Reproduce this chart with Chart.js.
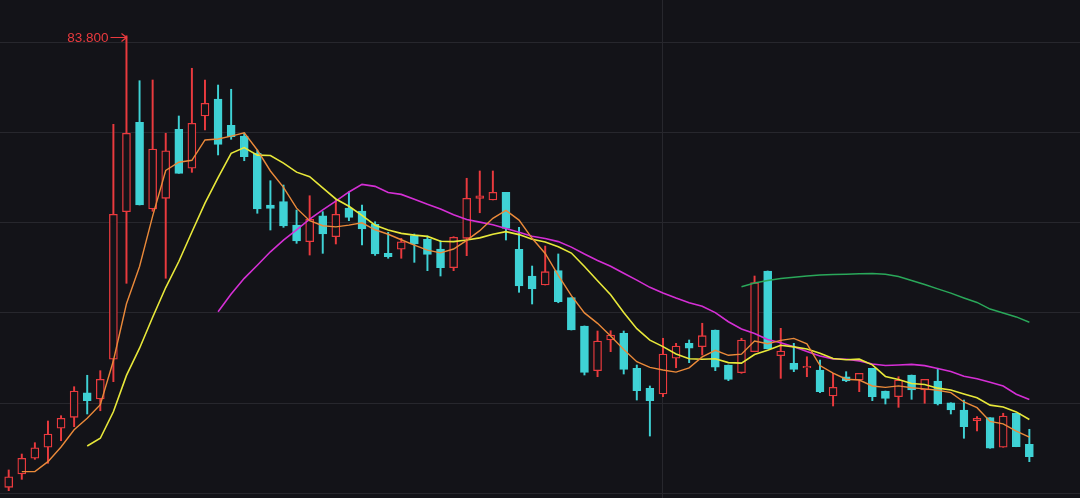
<!DOCTYPE html>
<html>
<head>
<meta charset="utf-8">
<script src="https://cdn.jsdelivr.net/npm/chart.js@4.4.1/dist/chart.umd.min.js"></script>
<style>
  html, body { margin: 0; padding: 0; background: #131318; overflow: hidden; }
  #wrap { position: relative; width: 1080px; height: 498px; }
</style>
</head>
<body>
<div id="wrap"><canvas id="c"></canvas></div>
<script>
// ---- data (price units) ----
const days = Array.from({ length: 79 }, (_, i) => i);

const open = [33.63,35.11,36.86,38.08,40.19,41.41,44.14,43.44,47.86,64.26,
  74.19,64.56,65.74,73.41,69.08,74.89,76.78,73.86,72.67,70.74,
  65.00,65.37,62.78,60.92,63.81,61.48,64.67,64.33,62.86,59.63,
  60.08,61.59,61.19,60.11,58.03,61.30,65.74,65.56,66.41,60.08,
  57.11,56.11,57.70,54.70,51.56,46.59,50.00,50.74,46.86,44.63,
  44.00,47.97,49.63,49.26,51.11,47.22,46.37,48.70,57.67,48.26,
  47.41,46.92,46.67,43.78,45.92,45.56,46.86,44.33,43.70,46.11,
  44.44,45.44,43.03,42.22,41.03,41.37,38.08,41.86,38.41];

const high = [35.56,37.33,38.59,41.00,41.59,44.81,46.08,46.59,73.97,83.80,
  78.81,78.89,72.97,74.89,80.19,78.89,78.33,77.86,73.00,71.11,
  67.70,67.22,64.44,66.03,64.26,65.56,66.48,65.00,63.14,61.97,
  61.30,61.78,61.56,61.03,61.48,67.97,68.78,68.78,66.41,62.52,
  58.22,60.44,59.56,54.70,51.56,51.00,51.03,51.00,47.22,44.89,
  50.19,49.63,50.00,51.86,51.11,47.22,50.19,57.11,57.67,51.30,
  49.63,48.14,47.78,46.30,46.48,46.30,46.86,44.33,45.92,46.11,
  45.63,46.86,43.03,43.33,41.48,41.37,41.86,41.86,40.08];

const low = [33.26,34.52,36.74,36.30,38.81,40.37,41.78,42.14,45.37,56.30,
  65.00,64.30,56.86,68.52,68.63,73.33,70.56,72.30,69.92,64.08,
  62.22,62.52,60.74,59.44,59.63,60.67,63.26,60.56,59.40,59.08,
  59.08,58.63,57.70,57.11,57.70,59.37,64.14,65.56,61.11,55.30,
  54.00,56.11,54.14,51.11,46.11,45.92,48.70,46.22,43.33,39.33,
  43.70,46.92,47.48,48.33,46.59,45.48,46.30,48.70,49.00,45.74,
  46.48,45.92,44.14,42.67,45.37,44.26,43.26,42.89,42.52,43.41,
  42.97,42.78,41.78,39.08,39.89,37.97,38.08,38.14,36.48];

const close = [34.81,36.86,38.03,39.56,41.30,44.33,43.26,45.63,63.97,72.97,
  65.00,71.22,71.03,68.52,74.08,76.30,71.74,72.59,70.37,64.56,
  64.63,62.67,61.00,63.41,61.78,63.97,63.63,62.33,59.56,59.26,
  60.92,60.67,59.52,58.03,61.41,65.74,66.03,66.41,62.41,56.00,
  55.67,57.59,54.26,51.11,46.41,49.89,50.56,46.74,44.37,43.26,
  48.44,49.33,49.08,50.48,46.97,45.63,50.00,56.37,49.00,48.78,
  46.74,47.03,44.26,44.74,45.44,46.30,43.70,43.52,45.56,44.44,
  45.63,42.89,42.22,40.37,41.30,37.97,41.56,38.14,37.03];

// moving averages, each with the first day it appears
const ma5Start = 1;
const ma5 = [35.37,35.37,36.48,38.11,40.02,41.30,42.82,47.70,54.03,58.17,
  63.76,68.84,69.75,69.97,72.23,72.33,72.65,73.02,71.11,68.78,
  66.96,64.65,63.25,62.70,62.57,62.76,63.02,62.25,61.75,61.14,
  60.55,59.99,59.68,60.11,61.07,62.15,63.52,64.40,63.32,61.30,
  59.62,57.19,54.93,53.01,51.85,50.45,48.94,47.59,46.96,46.67,
  46.43,46.90,48.12,48.86,48.30,48.43,49.89,49.59,49.96,50.18,
  49.58,47.16,46.31,45.64,45.55,44.89,44.74,44.90,44.70,44.57,
  44.41,44.15,43.11,42.48,40.95,40.68,39.87,39.20];

const ma10Start = 6;
const ma10 = [38.22,39.08,42.03,46.07,49.09,52.53,55.83,58.72,62.00,65.20,
  68.05,70.74,71.38,70.54,70.50,69.65,68.65,68.14,66.91,65.67,
  64.86,63.84,62.75,62.22,61.85,61.65,61.51,60.97,60.93,61.11,
  61.35,61.76,62.04,61.71,61.19,60.88,60.36,59.66,58.16,56.58,
  55.03,53.06,51.26,49.99,49.26,48.44,47.92,47.86,47.91,47.49,
  47.43,48.39,48.86,49.41,49.24,49.01,48.53,47.95,47.80,47.87,
  47.24,45.95,45.61,45.17,45.06,44.65,44.44,44.01,43.59,42.76,
  42.55,42.01,41.16];

const ma20Start = 16;
const ma20 = [53.14,55.11,56.85,58.31,59.80,61.09,62.24,63.43,64.45,65.44,
  66.45,67.29,67.07,66.38,66.18,65.65,65.08,64.55,63.92,63.39,
  63.10,62.80,62.40,61.97,61.52,61.27,60.93,60.32,59.55,58.84,
  58.19,57.41,56.65,55.85,55.23,54.66,54.14,53.76,53.04,52.03,
  51.23,50.73,50.06,49.70,49.25,48.72,48.22,47.90,47.86,47.68,
  47.33,47.17,47.23,47.29,47.15,46.83,46.49,45.98,45.70,45.31,
  44.89,43.98,43.38];

const ma60Start = 56;
const ma60 = [55.92,56.33,56.61,56.83,56.98,57.11,57.22,57.27,57.30,57.36,
  57.39,57.31,57.06,56.61,56.17,55.68,55.20,54.67,54.17,53.44,
  53.00,52.56,51.97];

const gridLevels = [33, 43, 53, 63, 73, 83];
const gridDay = 50;

// ---- style ----
const BG = '#131318';
const GRID = '#27272d';
const RED = '#ea3a3e';
const CYAN = '#3fd2d5';

const isUp = i => close[i] >= open[i];
const series = (start, arr) => arr.map((v, k) => ({ x: start + k, y: v }));

const peakLabel = {
  id: 'peakLabel',
  afterDatasetsDraw(chart) {
    const { ctx, scales: { x, y } } = chart;
    const top = Math.max(...high);
    const i = high.indexOf(top);
    const px = Math.round(x.getPixelForValue(i)) + 0.5;
    const py = Math.round(y.getPixelForValue(top)) + 1.5;
    ctx.save();
    ctx.strokeStyle = RED;
    ctx.fillStyle = RED;
    ctx.lineWidth = 1.2;
    ctx.beginPath();
    ctx.moveTo(px - 16, py); ctx.lineTo(px, py);
    ctx.moveTo(px - 5, py - 4); ctx.lineTo(px, py); ctx.lineTo(px - 5, py + 4);
    ctx.stroke();
    ctx.font = '13.5px "Liberation Sans", Arial, sans-serif';
    ctx.textAlign = 'right';
    ctx.textBaseline = 'middle';
    ctx.fillText(top.toFixed(3), px - 18, py + 0.5);
    ctx.restore();
  }
};

new Chart(document.getElementById('c'), {
  type: 'bar',
  data: {
    datasets: [
      {
        type: 'line', label: 'MA5', order: 0,
        data: series(ma5Start, ma5),
        borderColor: '#eb8a3a', borderWidth: 1.4, pointRadius: 0, tension: 0, fill: false
      },
      {
        type: 'line', label: 'MA10', order: 0,
        data: series(ma10Start, ma10),
        borderColor: '#e8e83a', borderWidth: 1.6, pointRadius: 0, tension: 0, fill: false
      },
      {
        type: 'line', label: 'MA20', order: 0,
        data: series(ma20Start, ma20),
        borderColor: '#d52fd5', borderWidth: 1.6, pointRadius: 0, tension: 0, fill: false
      },
      {
        type: 'line', label: 'MA60', order: 0,
        data: series(ma60Start, ma60),
        borderColor: '#2aa85a', borderWidth: 1.4, pointRadius: 0, tension: 0, fill: false
      },
      {
        label: 'body', order: 2,
        data: days.map(i => ({ x: i, y: [open[i], close[i]] })),
        backgroundColor: c => isUp(c.dataIndex) ? BG : CYAN,
        borderColor: c => isUp(c.dataIndex) ? RED : CYAN,
        borderWidth: 1.3,
        borderSkipped: false,
        barThickness: 8,
        minBarLength: 1.3,
        grouped: false
      },
      {
        label: 'wick', order: 3,
        data: days.map(i => ({ x: i, y: [low[i], high[i]] })),
        backgroundColor: c => isUp(c.dataIndex) ? RED : CYAN,
        borderWidth: 0,
        barThickness: 1.3,
        grouped: false
      }
    ]
  },
  options: {
    responsive: true,
    maintainAspectRatio: false,
    animation: false,
    layout: { padding: 0, autoPadding: false },
    plugins: { legend: { display: false }, tooltip: { enabled: false } },
    events: [],
    scales: {
      x: {
        type: 'linear',
        min: -0.665,
        max: 81.87,
        offset: false,
        afterBuildTicks: s => { s.ticks = [{ value: gridDay }]; },
        ticks: { display: false },
        grid: { color: GRID, drawTicks: false, offset: false },
        border: { display: false }
      },
      y: {
        type: 'linear',
        min: 292 / 9,
        max: 790 / 9,
        afterBuildTicks: s => { s.ticks = gridLevels.map(v => ({ value: v })); },
        ticks: { display: false },
        grid: { color: GRID, drawTicks: false },
        border: { display: false }
      }
    }
  },
  plugins: [peakLabel]
});
</script>
</body>
</html>
